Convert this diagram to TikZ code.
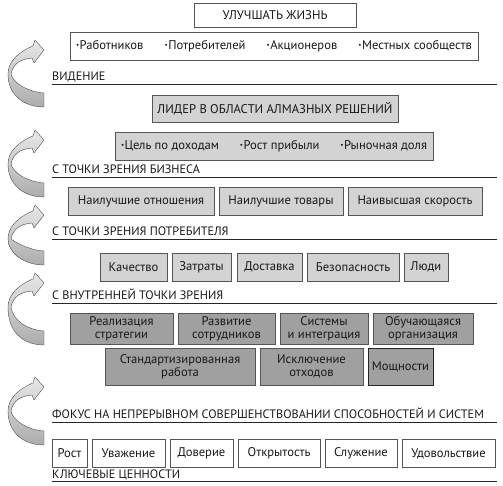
\documentclass[tikz,border=0pt]{standalone}
\usepackage{fontspec}
\setmainfont{PT Sans}
\definecolor{lgray}{HTML}{D3D3D3}
\definecolor{dgray}{HTML}{A0A0A0}
\definecolor{edge}{HTML}{555555}
\tikzset{
  base/.style={draw=edge, line width=0.9pt, inner sep=0pt, align=center,
    font=\fontsize{12.6}{13}\selectfont, text=black!90},
  wbox/.style={base, fill=white},
  gbox/.style={base, fill=lgray},
  dbox/.style={base, fill=dgray},
  head/.style={anchor=base west, inner sep=0pt, font=\fontsize{12.2}{13}\selectfont, text=black!90},
  rule/.style={line width=0.8pt, draw=black!85},
  arrowfill/.style={top color=gray!18, bottom color=gray!65, draw=gray!60!black, line width=0.4pt, line join=round}
}
\newcommand{\bul}{\raisebox{2.2pt}{\fontsize{7}{7}\selectfont\textbullet}\kern0.5pt}
\newcommand{\looparr}[3]{%
  \begin{scope}[shift={(#1,#2)}]
    \path[arrowfill] (0,0) -- (-9,-10) -- (-11,-4)
      .. controls (-26,2) and (-36,12) .. (-36,24)
      .. controls (-36,{#3-12}) and (-20,#3) .. (0,#3)
      -- (0,{#3-14})
      .. controls (-16,{#3-15}) and (-31,{#3-24}) .. (-33,24)
      .. controls (-31,14) and (-24,9) .. (-12,8)
      -- (-10,13) -- cycle;
  \end{scope}}
\begin{document}
\begin{tikzpicture}[x=1pt,y=-1pt]
\useasboundingbox (0,0) rectangle (503,485);
% arrows
\looparr{44}{50}{57}
\looparr{44}{140}{57}
\looparr{44}{215}{50}
\looparr{44}{283}{62}
\looparr{44}{387}{58}
% row 0
\node[wbox, minimum width=162pt, minimum height=24pt] (life) at (275,15.5) {УЛУЧШАТЬ ЖИЗНЬ};
\node[wbox, minimum width=408pt, minimum height=28pt] (stake) at (274,46)
  {\makebox[396pt]{\bul Работников\hfill\bul Потребителей\hfill\bul Акционеров\hfill\bul Местных сообществ}};
\node[head] (h1) at (52,80) {ВИДЕНИЕ};
\coordinate (h1e) at (497,84);
\draw[rule] (52,84) -- (h1e);
% row 2
\node[gbox, minimum width=246pt, minimum height=27pt] (leader) at (275,108.5) {ЛИДЕР В ОБЛАСТИ АЛМАЗНЫХ РЕШЕНИЙ};
\node[gbox, minimum width=318pt, minimum height=28pt] (fin) at (274,146)
  {\makebox[306pt]{\bul Цель по доходам\hfill\bul Рост прибыли\hfill\bul Рыночная доля}};
\node[head] (h2) at (52,173) {С ТОЧКИ ЗРЕНИЯ БИЗНЕСА};
\coordinate (h2e) at (497,177);
\draw[rule] (52,177) -- (h2e);
% row 4
\node[gbox, minimum width=146pt, minimum height=28pt] (c1) at (141,201) {Наилучшие отношения};
\node[gbox, minimum width=124pt, minimum height=28pt] (c2) at (281,201) {Наилучшие товары};
\node[gbox, minimum width=134pt, minimum height=28pt] (c3) at (415,201) {Наивысшая скорость};
\node[head] (h3) at (52,235) {С ТОЧКИ ЗРЕНИЯ ПОТРЕБИТЕЛЯ};
\coordinate (h3e) at (497,239);
\draw[rule] (52,239) -- (h3e);
% row 5
\node[gbox, minimum width=67pt, minimum height=28pt] (p1) at (133.5,267) {Качество};
\node[gbox, minimum width=59pt, minimum height=28pt] (p2) at (201.5,267) {Затраты};
\node[gbox, minimum width=65pt, minimum height=28pt] (p3) at (269.5,267) {Доставка};
\node[gbox, minimum width=92pt, minimum height=28pt] (p4) at (353,267) {Безопасность};
\node[gbox, minimum width=44pt, minimum height=28pt] (p5) at (426,267) {Люди};
\node[head] (h4) at (52,299) {С ВНУТРЕННЕЙ ТОЧКИ ЗРЕНИЯ};
\coordinate (h4e) at (497,303);
\draw[rule] (52,303) -- (h4e);
% row 6
\node[dbox, minimum width=103pt, minimum height=31pt] (i1) at (121.5,328.5) {Реализация\\стратегии};
\node[dbox, minimum width=97pt, minimum height=31pt] (i2) at (226.5,328.5) {Развитие\\сотрудников};
\node[dbox, minimum width=88pt, minimum height=31pt] (i3) at (324,328.5) {Системы\\и интеграция};
\node[dbox, minimum width=100pt, minimum height=31pt] (i4) at (423,328.5) {Обучающаяся\\организация};
\node[dbox, minimum width=150pt, minimum height=37pt] (i5) at (180,366.5) {Стандартизированная\\работа};
\node[dbox, minimum width=103pt, minimum height=37pt] (i6) at (311.5,366.5) {Исключение\\отходов};
\node[dbox, draw=black!85, minimum width=65pt, minimum height=37pt] (i7) at (400.5,366.5) {Мощности};
\node[head] (h5) at (52,418) {ФОКУС НА НЕПРЕРЫВНОМ СОВЕРШЕНСТВОВАНИИ СПОСОБНОСТЕЙ И СИСТЕМ};
\coordinate (h5e) at (497,422);
\draw[rule] (52,422) -- (h5e);
% row 8
\node[wbox, minimum width=35pt, minimum height=28pt] (v1) at (69.5,453.5) {Рост};
\node[wbox, minimum width=73pt, minimum height=28pt] (v2) at (128.5,453.5) {Уважение};
\node[wbox, minimum width=63pt, minimum height=28pt] (v3) at (201.5,453.5) {Доверие};
\node[wbox, minimum width=82pt, minimum height=28pt] (v4) at (279,453.5) {Открытость};
\node[wbox, minimum width=72pt, minimum height=28pt] (v5) at (361,453.5) {Служение};
\node[wbox, minimum width=93pt, minimum height=28pt] (v6) at (448.5,453.5) {Удовольствие};
\node[head] (h6) at (52,478) {КЛЮЧЕВЫЕ ЦЕННОСТИ};
\coordinate (h6e) at (497,481);
\draw[rule] (52,481) -- (h6e);
\end{tikzpicture}
\end{document}
